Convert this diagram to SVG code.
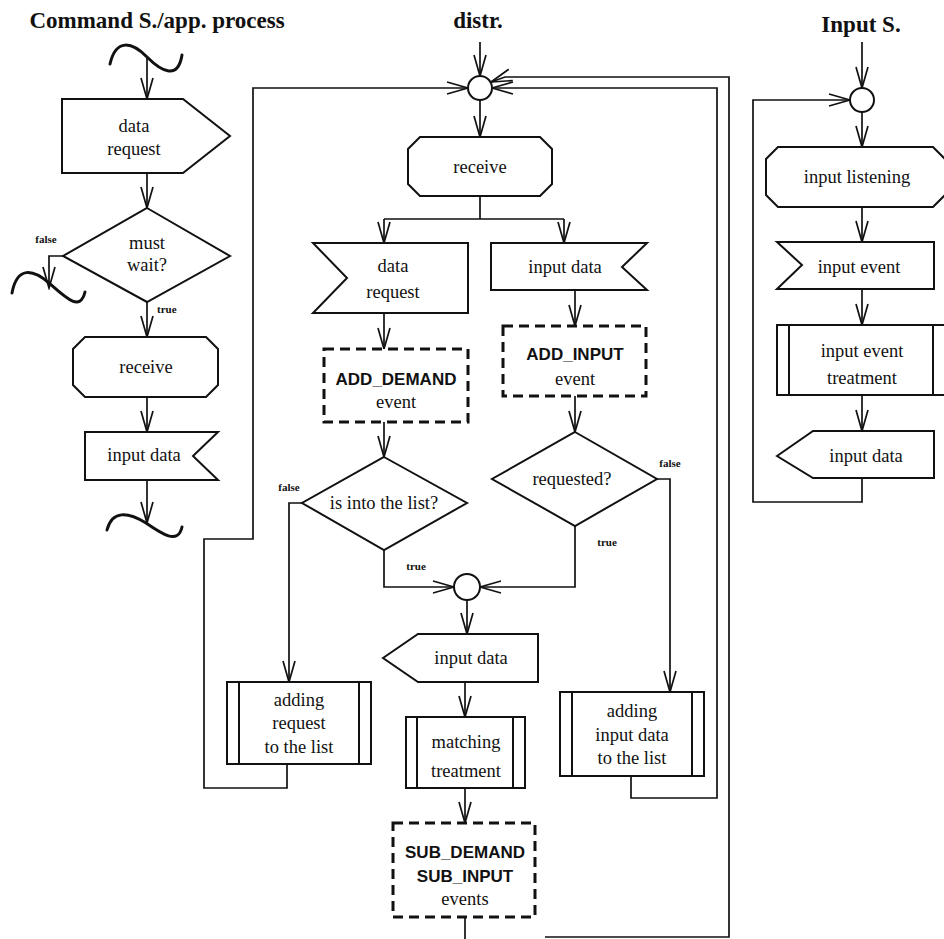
<svg xmlns="http://www.w3.org/2000/svg" width="944" height="939" viewBox="0 0 944 939">
  <style>
    .bx { fill: #fff; stroke: #111; stroke-width: 2; stroke-linejoin: miter; }
    .dsh { fill: #fff; stroke: #111; stroke-width: 3; stroke-dasharray: 10 6; }
    .bar { stroke: #111; stroke-width: 2; }
    .c { fill: none; stroke: #111; stroke-width: 1.7; }
    .wave { fill: none; stroke: #111; stroke-width: 3; stroke-linecap: round; }
    .t { font-family: "Liberation Serif", "Times New Roman", serif; font-size: 18.5px; text-anchor: middle; fill: #111; }
    .s { font-family: "Liberation Sans", Arial, sans-serif; font-weight: bold; font-size: 17px; text-anchor: middle; fill: #111; }
    .h { font-family: "Liberation Serif", "Times New Roman", serif; font-weight: bold; font-size: 23px; text-anchor: middle; fill: #111; }
    .l { font-family: "Liberation Serif", "Times New Roman", serif; font-weight: bold; font-size: 11px; fill: #111; }
  </style>
  <defs>
    <marker id="arr" markerUnits="userSpaceOnUse" viewBox="0 0 24 14" markerWidth="24" markerHeight="14" refX="22" refY="7" orient="auto">
      <path d="M1,1 L22,7 L1,13" fill="none" stroke="#111" stroke-width="1.7"/>
    </marker>
  </defs>
  <rect width="944" height="939" fill="#fff"/>

  <!-- column headings -->
  <text class="h" x="157" y="28">Command S./app. process</text>
  <text class="h" x="478" y="28">distr.</text>
  <text class="h" x="861" y="32">Input S.</text>

  <!-- connectors -->
  <g id="connectors">
    <!-- Command S./app. process -->
    <path class="c" d="M147,57 V99" marker-end="url(#arr)"/>
    <path class="c" d="M147,173 V208" marker-end="url(#arr)"/>
    <path class="c" d="M63,256 H49 V288" marker-end="url(#arr)"/>
    <path class="c" d="M147,302 V337" marker-end="url(#arr)"/>
    <path class="c" d="M147,397 V432" marker-end="url(#arr)"/>
    <path class="c" d="M147,480 V523" marker-end="url(#arr)"/>

    <!-- distr. -->
    <path class="c" d="M480,42 V76" marker-end="url(#arr)"/>
    <path class="c" d="M287,764 V788 H204 V539 H253 V88 H468" marker-end="url(#arr)"/>
    <path class="c" d="M631,776 V798 H717 V88 H492" marker-end="url(#arr)"/>
    <path class="c" d="M545,937 H729 V77 H505 L491,82" marker-end="url(#arr)"/>
    <path class="c" d="M480,100 V137" marker-end="url(#arr)"/>
    <path class="c" d="M480,196 V219 M384,219 H564"/>
    <path class="c" d="M384,219 V243" marker-end="url(#arr)"/>
    <path class="c" d="M564,219 V243" marker-end="url(#arr)"/>
    <path class="c" d="M384,313 V349" marker-end="url(#arr)"/>
    <path class="c" d="M384,422 V457" marker-end="url(#arr)"/>
    <path class="c" d="M302,503 H289 V682" marker-end="url(#arr)"/>
    <path class="c" d="M384,550 V587 H454" marker-end="url(#arr)"/>
    <path class="c" d="M575,290 V326" marker-end="url(#arr)"/>
    <path class="c" d="M575,396 V432" marker-end="url(#arr)"/>
    <path class="c" d="M657,479 H670 V692" marker-end="url(#arr)"/>
    <path class="c" d="M575,526 V587 H480" marker-end="url(#arr)"/>
    <path class="c" d="M467,600 V634" marker-end="url(#arr)"/>
    <path class="c" d="M465,682 V717" marker-end="url(#arr)"/>
    <path class="c" d="M465,788 V823" marker-end="url(#arr)"/>
    <path class="c" d="M465,917 V939"/>

    <!-- Input S. -->
    <path class="c" d="M862,42 V88" marker-end="url(#arr)"/>
    <path class="c" d="M862,478 V502 H753 V100 H850" marker-end="url(#arr)"/>
    <path class="c" d="M862,112 V147" marker-end="url(#arr)"/>
    <path class="c" d="M862,207 V242" marker-end="url(#arr)"/>
    <path class="c" d="M862,289 V325" marker-end="url(#arr)"/>
    <path class="c" d="M862,395 V431" marker-end="url(#arr)"/>
  </g>

  <!-- branch labels -->
  <g id="labels">
    <text class="l" x="46" y="243" text-anchor="middle">false</text>
    <text class="l" x="157" y="313">true</text>
    <text class="l" x="289" y="491" text-anchor="middle">false</text>
    <text class="l" x="416" y="570" text-anchor="middle">true</text>
    <text class="l" x="670" y="467" text-anchor="middle">false</text>
    <text class="l" x="607" y="546" text-anchor="middle">true</text>
  </g>

  <!-- Command S./app. process nodes -->
  <g id="cmd-start">
    <path class="wave" d="M110,64 C116,38 132,42 147,57 C162,72 178,80 182,55"/>
  </g>
  <g id="cmd-data-request">
    <polygon class="bx" points="62,99 183,99 230,136 183,173 62,173"/>
    <text class="t" x="134" y="132">data</text>
    <text class="t" x="134" y="155">request</text>
  </g>
  <g id="cmd-must-wait">
    <polygon class="bx" points="147,208 230,256 147,302 63,256"/>
    <text class="t" x="147" y="249">must</text>
    <text class="t" x="147" y="271">wait?</text>
  </g>
  <g id="cmd-false-end">
    <path class="wave" d="M12,293 C17,266 33,269 49,283 C66,298 80,312 85,292"/>
  </g>
  <g id="cmd-receive">
    <polygon class="bx" points="85,337 206,337 218,349 218,385 206,397 85,397 73,385 73,349"/>
    <text class="t" x="146" y="373">receive</text>
  </g>
  <g id="cmd-input-data">
    <polygon class="bx" points="85,432 218,432 193,456 218,480 85,480"/>
    <text class="t" x="144" y="461">input data</text>
  </g>
  <g id="cmd-end">
    <path class="wave" d="M107,530 C112,510 128,512 146,523 C162,534 178,545 182,527"/>
  </g>

  <!-- distr. nodes -->
  <g id="distr-join">
    <circle class="bx" cx="480" cy="88" r="12"/>
  </g>
  <g id="distr-receive">
    <polygon class="bx" points="420,137 540,137 552,149 552,184 540,196 420,196 408,184 408,149"/>
    <text class="t" x="480" y="173">receive</text>
  </g>
  <g id="distr-data-request">
    <polygon class="bx" points="313,243 468,243 468,313 313,313 347,278"/>
    <text class="t" x="393" y="272">data</text>
    <text class="t" x="393" y="298">request</text>
  </g>
  <g id="distr-input-data">
    <polygon class="bx" points="491,243 647,243 622,267 647,290 491,290"/>
    <text class="t" x="565" y="273">input data</text>
  </g>
  <g id="add-demand">
    <rect class="dsh" x="324" y="349" width="144" height="73"/>
    <text class="s" x="396" y="385">ADD_DEMAND</text>
    <text class="t" x="396" y="408">event</text>
  </g>
  <g id="add-input">
    <rect class="dsh" x="503" y="326" width="143" height="70"/>
    <text class="s" x="575" y="360">ADD_INPUT</text>
    <text class="t" x="575" y="385">event</text>
  </g>
  <g id="into-list">
    <polygon class="bx" points="384,457 467,503 384,550 302,503"/>
    <text class="t" x="384" y="509">is into the list?</text>
  </g>
  <g id="requested">
    <polygon class="bx" points="575,432 657,479 575,526 492,479"/>
    <text class="t" x="572" y="485">requested?</text>
  </g>
  <g id="match-join">
    <circle class="bx" cx="467" cy="587" r="13"/>
  </g>
  <g id="adding-request">
    <rect class="bx" x="227" y="682" width="144" height="82"/>
    <line class="bar" x1="239" y1="682" x2="239" y2="764"/>
    <line class="bar" x1="359" y1="682" x2="359" y2="764"/>
    <text class="t" x="299" y="706">adding</text>
    <text class="t" x="299" y="729">request</text>
    <text class="t" x="299" y="753">to the list</text>
  </g>
  <g id="distr-send-input">
    <polygon class="bx" points="383,658 418,634 538,634 538,682 418,682"/>
    <text class="t" x="471" y="664">input data</text>
  </g>
  <g id="matching">
    <rect class="bx" x="406" y="717" width="119" height="71"/>
    <line class="bar" x1="417" y1="717" x2="417" y2="788"/>
    <line class="bar" x1="513" y1="717" x2="513" y2="788"/>
    <text class="t" x="466" y="748">matching</text>
    <text class="t" x="466" y="777">treatment</text>
  </g>
  <g id="sub-events">
    <rect class="dsh" x="393" y="823" width="142" height="94"/>
    <text class="s" x="465" y="858">SUB_DEMAND</text>
    <text class="s" x="465" y="882">SUB_INPUT</text>
    <text class="t" x="465" y="905">events</text>
  </g>
  <g id="adding-input">
    <rect class="bx" x="560" y="692" width="144" height="84"/>
    <line class="bar" x1="572" y1="692" x2="572" y2="776"/>
    <line class="bar" x1="692" y1="692" x2="692" y2="776"/>
    <text class="t" x="632" y="717">adding</text>
    <text class="t" x="632" y="741">input data</text>
    <text class="t" x="632" y="764">to the list</text>
  </g>

  <!-- Input S. nodes -->
  <g id="input-join">
    <circle class="bx" cx="862" cy="100" r="12"/>
  </g>
  <g id="input-listening">
    <polygon class="bx" points="778,147 933,147 945,159 945,195 933,207 778,207 766,195 766,159"/>
    <text class="t" x="857" y="183">input listening</text>
  </g>
  <g id="input-event">
    <polygon class="bx" points="777,242 934,242 934,289 777,289 802,265"/>
    <text class="t" x="859" y="273">input event</text>
  </g>
  <g id="input-treatment">
    <rect class="bx" x="777" y="325" width="170" height="70"/>
    <line class="bar" x1="789" y1="325" x2="789" y2="395"/>
    <line class="bar" x1="933" y1="325" x2="933" y2="395"/>
    <text class="t" x="862" y="357">input event</text>
    <text class="t" x="862" y="384">treatment</text>
  </g>
  <g id="input-send-data">
    <polygon class="bx" points="777,456 813,431 934,431 934,478 813,478"/>
    <text class="t" x="866" y="462">input data</text>
  </g>
</svg>
